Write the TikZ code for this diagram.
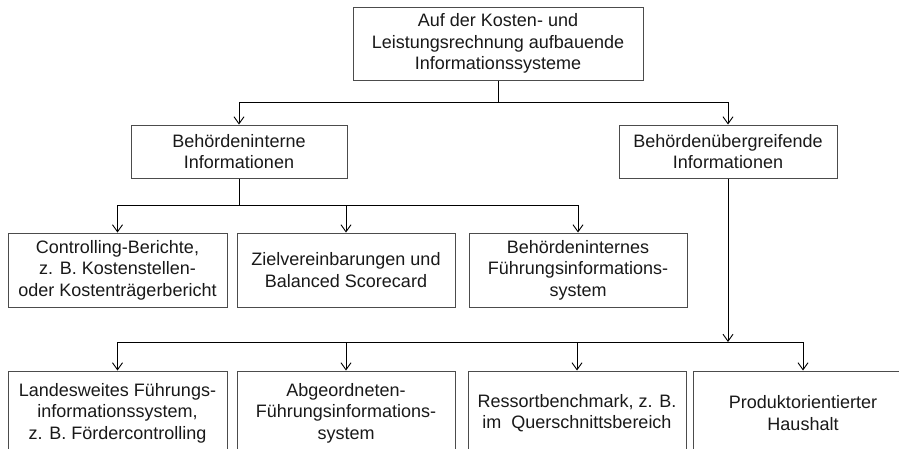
\documentclass[tikz,border=0pt]{standalone}
\usepackage{fontspec}
\setmainfont{Liberation Sans}
\usetikzlibrary{arrows.meta}
\begin{document}
\begin{tikzpicture}[x=1pt,y=-1pt,
  box/.style={draw=black!70, line width=1pt, fill=white, align=center, inner sep=0pt,
    font=\fontsize{18}{21.5}\selectfont, text=black!90},
  conn/.style={line width=0.9pt, black},
  arr/.style={conn, -{Straight Barb[length=7pt,width=10pt,line width=0.9pt]}}]
\useasboundingbox (0,0) rectangle (899,448);
\clip (0,0) rectangle (899,448);
\fill[white] (0,0) rectangle (899,448);
% level 1
\node[box, minimum width=290pt, minimum height=73pt] (top) at (498,43.5)
  {Auf der Kosten- und\\Leistungsrechnung aufbauende\\Informationssysteme};
% level 2
\node[box, minimum width=216pt, minimum height=53pt] (bi) at (239,151.5)
  {Behördeninterne\\Informationen};
\node[box, minimum width=218pt, minimum height=53pt] (bu) at (728,151.5)
  {Behördenübergreifende\\Informationen};
% level 3
\node[box, minimum width=219pt, minimum height=74pt] (c1) at (117.5,270)
  {Controlling-Berichte,\\z. B. Kostenstellen-\\oder Kostenträgerbericht};
\node[box, minimum width=218pt, minimum height=74pt] (c2) at (346,270)
  {Zielvereinbarungen und\\Balanced Scorecard};
\node[box, minimum width=218pt, minimum height=74pt] (c3) at (578,270)
  {Behördeninternes\\Führungsinformations-\\system};
% level 4
\node[box, minimum width=219pt, minimum height=84pt] (d1) at (117.5,413)
  {Landesweites Führungs-\\informationssystem,\\z. B. Fördercontrolling};
\node[box, minimum width=218pt, minimum height=84pt] (d2) at (346,413)
  {Abgeordneten-\\Führungsinformations-\\system};
\node[box, minimum width=218pt, minimum height=84pt] (d3) at (577,413)
  {Ressortbenchmark, z. B.\\im \ Querschnittsbereich};
\node[box, minimum width=220pt, minimum height=84pt] (d4) at (803,413)
  {Produktorientierter\\Haushalt};
% junctions
\coordinate (j1) at (498,102);
\coordinate (j2) at (239,205);
\coordinate (j3) at (728,342);
% connectors
\draw[conn] (top.south) -- (j1);
\draw[arr] (j1) -| (bi.north);
\draw[arr] (j1) -| (bu.north);
\draw[conn] (bi.south) -- (j2);
\draw[arr] (j2) -| (c1.north);
\draw[arr] (j2) -| (c2.north);
\draw[arr] (j2) -| (c3.north);
\draw[arr] (bu.south) -- (j3);
\draw[arr] (j3) -| (d1.north);
\draw[arr] (j3) -| (d2.north);
\draw[arr] (j3) -| (d3.north);
\draw[arr] (j3) -| (d4.north);
\end{tikzpicture}
\end{document}
